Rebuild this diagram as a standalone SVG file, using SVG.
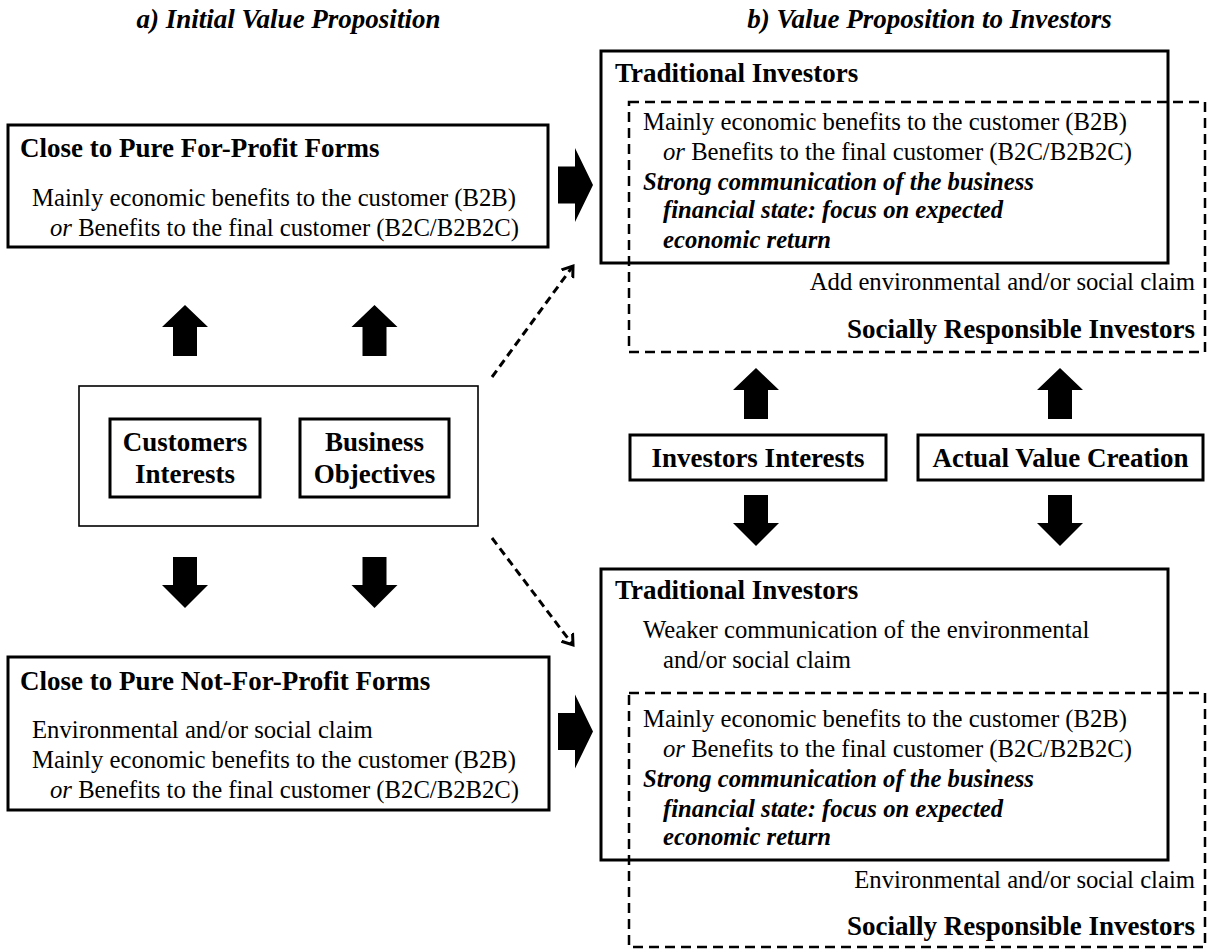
<svg xmlns="http://www.w3.org/2000/svg" xmlns:xlink="http://www.w3.org/1999/xlink" width="1212" height="951" viewBox="0 0 1212 951">
<style>
text{font-family:"Liberation Serif","Times New Roman",serif;fill:#000}
.h{font-size:27px;font-weight:bold;font-style:italic}
.t{font-size:27px;font-weight:bold}
.b{font-size:24.7px}
.bi{font-size:24.7px;font-weight:bold;font-style:italic}
.i{font-style:italic}
.box{fill:none;stroke:#000;stroke-width:3}
.thin{fill:none;stroke:#000;stroke-width:1.6}
.dash{fill:none;stroke:#000;stroke-width:2.5;stroke-dasharray:10 6}
.darrow{fill:none;stroke:#000;stroke-width:3;stroke-dasharray:8 5}
.blk{fill:#000}
</style>
<defs>
<polygon id="up" points="0,0 23,22 12,22 12,51 -12,51 -12,22 -23,22"/>
<polygon id="down" points="-12,0 12,0 12,28 23,28 0,51 -23,28 -12,28"/>
<polygon id="right" points="0,-18.5 17,-18.5 17,-37 35,0 17,37 17,18.5 0,18.5"/>
<marker id="chev" markerUnits="userSpaceOnUse" markerWidth="20" markerHeight="20" refX="10" refY="10" orient="auto">
<path d="M0,3 L10,10 L0,17" fill="none" stroke="#000" stroke-width="3"/>
</marker>
</defs>
<rect width="1212" height="951" fill="#fff"/>

<g id="titles">
<text class="h" x="288.5" y="28" text-anchor="middle">a) Initial Value Proposition</text>
<text class="h" x="929.5" y="28" text-anchor="middle">b) Value Proposition to Investors</text>
</g>

<g id="for-profit">
<rect class="box" x="8" y="125" width="540" height="122"/>
<text class="t" x="20" y="157">Close to Pure For-Profit Forms</text>
<text class="b" x="32" y="206">Mainly economic benefits to the customer (B2B)</text>
<text class="b" x="50" y="236"><tspan class="i">or</tspan> Benefits to the final customer (B2C/B2B2C)</text>
</g>

<g id="center">
<rect class="thin" x="79" y="386" width="399" height="140"/>
<g id="customers">
<rect class="box" x="110" y="419" width="150" height="78"/>
<text class="t" x="185" y="451" text-anchor="middle">Customers</text>
<text class="t" x="185" y="483" text-anchor="middle">Interests</text>
</g>
<g id="business">
<rect class="box" x="300" y="419" width="149" height="78"/>
<text class="t" x="374.5" y="451" text-anchor="middle">Business</text>
<text class="t" x="374.5" y="483" text-anchor="middle">Objectives</text>
</g>
</g>

<g id="not-for-profit">
<rect class="box" x="8" y="657" width="541" height="153"/>
<text class="t" x="20" y="690">Close to Pure Not-For-Profit Forms</text>
<text class="b" x="32" y="738">Environmental and/or social claim</text>
<text class="b" x="32" y="768">Mainly economic benefits to the customer (B2B)</text>
<text class="b" x="50" y="798"><tspan class="i">or</tspan> Benefits to the final customer (B2C/B2B2C)</text>
</g>

<g id="top-investors">
<rect class="box" x="601" y="51" width="567" height="212"/>
<rect class="dash" x="629" y="102" width="576" height="250"/>
<text class="t" x="615" y="82">Traditional Investors</text>
<text class="b" x="643" y="130">Mainly economic benefits to the customer (B2B)</text>
<text class="b" x="663" y="160"><tspan class="i">or</tspan> Benefits to the final customer (B2C/B2B2C)</text>
<text class="bi" x="643" y="190">Strong communication of the business</text>
<text class="bi" x="663" y="218">financial state: focus on expected</text>
<text class="bi" x="663" y="248">economic return</text>
<text class="b" x="1195" y="290" text-anchor="end">Add environmental and/or social claim</text>
<text class="t" x="1195" y="338" text-anchor="end">Socially Responsible Investors</text>
</g>

<g id="investors-interests">
<rect class="box" x="630" y="435" width="256" height="45"/>
<text class="t" x="758" y="467" text-anchor="middle">Investors Interests</text>
</g>

<g id="actual-value">
<rect class="box" x="918" y="435" width="285" height="45"/>
<text class="t" x="1060.5" y="467" text-anchor="middle">Actual Value Creation</text>
</g>

<g id="bottom-investors">
<rect class="box" x="601" y="569" width="567" height="291"/>
<rect class="dash" x="629" y="693" width="576" height="254"/>
<text class="t" x="615" y="599">Traditional Investors</text>
<text class="b" x="643" y="638">Weaker communication of the environmental</text>
<text class="b" x="663" y="668">and/or social claim</text>
<text class="b" x="643" y="727">Mainly economic benefits to the customer (B2B)</text>
<text class="b" x="663" y="757"><tspan class="i">or</tspan> Benefits to the final customer (B2C/B2B2C)</text>
<text class="bi" x="643" y="787">Strong communication of the business</text>
<text class="bi" x="663" y="817">financial state: focus on expected</text>
<text class="bi" x="663" y="845">economic return</text>
<text class="b" x="1195" y="888" text-anchor="end">Environmental and/or social claim</text>
<text class="t" x="1195" y="935" text-anchor="end">Socially Responsible Investors</text>
</g>

<g id="connectors">
<use href="#up" class="blk" x="185" y="305"/>
<use href="#up" class="blk" x="374.5" y="305"/>
<use href="#down" class="blk" x="185" y="557"/>
<use href="#down" class="blk" x="374.5" y="557"/>
<use href="#up" class="blk" x="756" y="368"/>
<use href="#up" class="blk" x="1060" y="368"/>
<use href="#down" class="blk" x="756" y="495"/>
<use href="#down" class="blk" x="1060" y="495"/>
<use href="#right" class="blk" x="558" y="185"/>
<use href="#right" class="blk" x="558" y="731.5"/>
<line class="darrow" x1="492" y1="377" x2="573" y2="266" marker-end="url(#chev)"/>
<line class="darrow" x1="492" y1="538" x2="573" y2="645" marker-end="url(#chev)"/>
</g>
</svg>
